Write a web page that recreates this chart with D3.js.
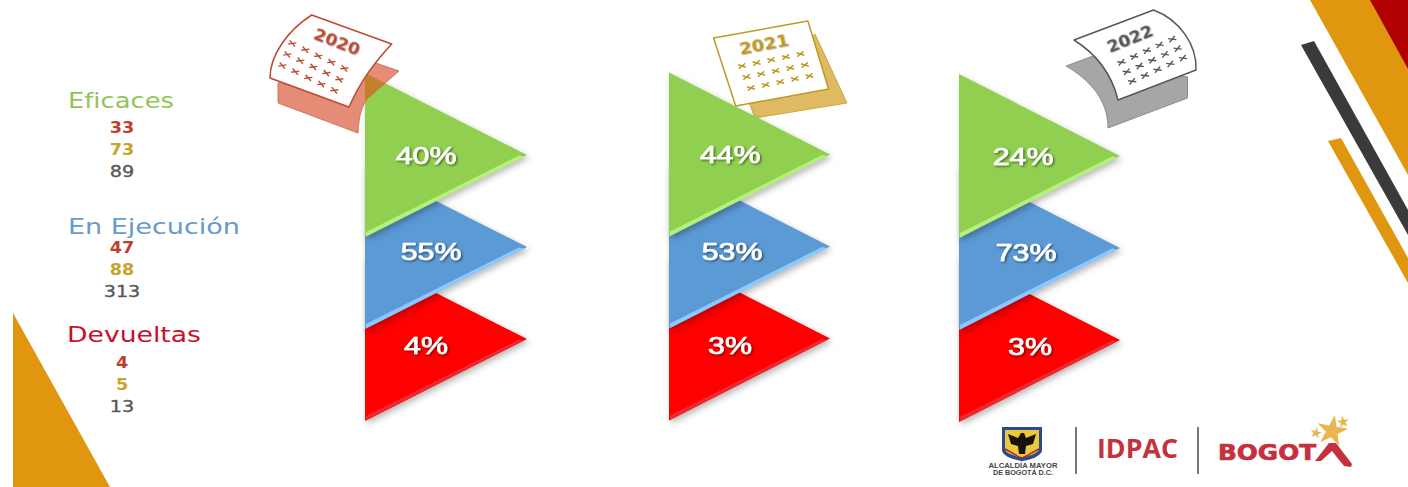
<!DOCTYPE html>
<html lang="es">
<head>
<meta charset="utf-8">
<title>Solicitudes por estado 2020-2022</title>
<script src="https://cdn.jsdelivr.net/npm/d3@7/dist/d3.min.js"></script>
<style>
  html, body { margin: 0; padding: 0; background: #fff; overflow: hidden; }
  svg { display: block; }
  text { font-family: "DejaVu Sans", sans-serif; }
</style>
</head>
<body>
<svg id="chart" width="1408" height="487" viewBox="0 0 1408 487"></svg>
<script>
// Values per year and per status
const years = ["2020", "2021", "2022"];
const statuses = ["Eficaces", "En Ejecución", "Devueltas"];
const eficacesCount = [33, 73, 89];
const ejecucionCount = [47, 88, 313];
const devueltasCount = [4, 5, 13];
const eficacesPct = [40, 44, 24];
const ejecucionPct = [55, 53, 73];
const devueltasPct = [4, 3, 3];

const counts = [eficacesCount, ejecucionCount, devueltasCount];
const pcts = [eficacesPct, ejecucionPct, devueltasPct];

// Scales for the three year columns and three status rows
const panelX = d3.scaleOrdinal().domain(years).range([365, 669, 959]);
const panelDy = d3.scaleOrdinal().domain(years).range([0, -0.5, 1]);
const tipY = d3.scaleOrdinal().domain(statuses).range([155, 247, 339]);
const triW = d3.scaleOrdinal().domain(years).range([162, 161, 161]);
const triH = 82;

const statusFill = d3.scaleOrdinal().domain(statuses).range(["#90cf50", "#5b9ad5", "#ff0000"]);
const statusEdge = d3.scaleOrdinal().domain(statuses).range(["#b4f07a", "#8cc8fb", "#ea2a30"]);
const statusTitle = d3.scaleOrdinal().domain(statuses).range(["#93c45a", "#669ccb", "#c8102a"]);
const yearInk = d3.scaleOrdinal().domain(years).range(["#bb4a32", "#bf9a22", "#555759"]);

const titleBase = d3.scaleOrdinal().domain(statuses).range([108, 234, 342]);
const titleWidth = d3.scaleOrdinal().domain(statuses).range([106, 172, 134]);
const firstCountBase = d3.scaleOrdinal().domain(statuses).range([133, 253, 368]);
const countStep = 22;

const svg = d3.select("#chart");
const defs = svg.append("defs");

const shadow = defs.append("filter").attr("id", "triShadow")
  .attr("x", "-15%").attr("y", "-15%").attr("width", "130%").attr("height", "130%");
shadow.append("feDropShadow").attr("dx", 2).attr("dy", 3).attr("stdDeviation", 3)
  .attr("flood-color", "#000").attr("flood-opacity", 0.28);

const textShadow = defs.append("filter").attr("id", "pctShadow")
  .attr("x", "-20%").attr("y", "-20%").attr("width", "140%").attr("height", "140%");
textShadow.append("feDropShadow").attr("dx", 1).attr("dy", 1.2).attr("stdDeviation", 0.8)
  .attr("flood-color", "#000").attr("flood-opacity", 0.55);

const yearShadow = defs.append("filter").attr("id", "yearShadow")
  .attr("x", "-20%").attr("y", "-20%").attr("width", "140%").attr("height", "140%");
yearShadow.append("feDropShadow").attr("dx", 0.8).attr("dy", 0.8).attr("stdDeviation", 0.6)
  .attr("flood-color", "#000").attr("flood-opacity", 0.35);

// Slide decoration in the corners
const corner = svg.append("g").attr("class", "corners");
const cornerShapes = [
  { fill: "#e0960f", pts: [[13, 313], [110, 487], [13, 487]] },
  { fill: "#e0960f", pts: [[1310, 0], [1371, 0], [1408, 68], [1408, 175]] },
  { fill: "#b00000", pts: [[1370, 0], [1408, 0], [1408, 69]] },
  { fill: "#3a3a3c", pts: [[1301, 45], [1314, 41], [1408, 210], [1408, 235]] },
  { fill: "#e0960f", pts: [[1328, 141], [1341, 138], [1408, 258], [1408, 283]] }
];
corner.selectAll("polygon").data(cornerShapes).join("polygon")
  .attr("points", d => d.pts.join(" "))
  .attr("fill", d => d.fill);

// Legend: status title followed by one count per year
const legend = svg.append("g").attr("class", "legend");
statuses.forEach((status, si) => {
  legend.append("text")
    .attr("x", status === "Devueltas" ? 67 : 68)
    .attr("y", titleBase(status))
    .attr("font-size", 20.5)
    .attr("fill", statusTitle(status))
    .attr("textLength", titleWidth(status))
    .attr("lengthAdjust", "spacingAndGlyphs")
    .text(status);
  legend.selectAll(null).data(counts[si]).join("text")
    .attr("transform", (d, i) => {
      const sx = i === 2 ? 1.2 : 1.1;
      return `translate(122,${firstCountBase(status) + i * countStep}) scale(${sx},1)`;
    })
    .attr("text-anchor", "middle")
    .attr("font-size", 16)
    .attr("font-weight", (d, i) => i === 2 ? 400 : 700)
    .attr("fill", (d, i) => i === 0 ? "#bf3f2c" : i === 1 ? "#c6a42c" : "#57585a")
    .attr("stroke", (d, i) => i === 2 ? "#57585a" : "none")
    .attr("stroke-width", 0.35)
    .text(d => d);
});

// Triangle outline for one year and status
function triangle(year, status) {
  const x0 = panelX(year), w = triW(year), y = tipY(status) + panelDy(year);
  return [[x0, y - triH], [x0 + w, y], [x0, y + triH]];
}

// Pages behind the triangles of the 2021 and 2022 columns
const calendars = [
  {
    year: "2020", back: "M278,83 L278,103 L358,133 C359,115 362,105 368,98 L399,71 L373,62 Z",
    backFill: "#e58c76", backStroke: "#c9654e",
    page: "M311.7,15 L391.7,44 C375,62 361,80 349,107 L270,78 C270,55 288,30 311.7,15 Z",
    cross: { x: 292.3, y: 43.5, ux: 13, uy: 6.2, vx: -5, vy: 11 },
    label: { x: 335, y: 47, angle: 21, width: 48 }
  },
  {
    year: "2021", back: "M815,34 L847,103 L755,118 L748,100 Z",
    backFill: "#deba62", backStroke: "#d2a63a",
    page: "M713.6,38 L807.9,21 L828.6,89 L735.7,106 Z",
    cross: { x: 742, y: 66, ux: 14.6, uy: -3, vx: 4.5, vy: 11 },
    label: { x: 765, y: 50, angle: -11, width: 50 }
  },
  {
    year: "2022", back: "M1066,66 L1093,56 L1187.5,77 L1187.5,98 L1108,128 C1108,100 1090,80 1066,66 Z",
    backFill: "#a6a6a6", backStroke: "#8d8d8d",
    page: "M1074,40 L1153.6,10 C1180,20 1197,45 1196,70 L1118,100 C1112,75 1098,55 1074,40 Z",
    cross: { x: 1121.4, y: 62.3, ux: 12.7, uy: -5.8, vx: 5.4, vy: 9.5 },
    label: { x: 1132, y: 44, angle: -22, width: 48 }
  }
];

const backs = svg.append("g").attr("class", "calendar-backs");
calendars.filter(c => c.year !== "2020").forEach(c => {
  backs.append("path").attr("d", c.back).attr("fill", c.backFill)
    .attr("stroke", c.backStroke).attr("stroke-width", 1);
});

// Triangles: lower rows first so each one tucks under the row above
const panels = svg.append("g").attr("class", "panels");
years.forEach(year => {
  const col = panels.append("g").attr("class", "col-" + year);
  [...statuses].reverse().forEach(status => {
    const [a, b, c] = triangle(year, status);
    const g = col.append("g").attr("filter", "url(#triShadow)");
    g.append("polygon").attr("points", [a, b, c].join(" ")).attr("fill", statusFill(status));
    // thin bevel along the lower slanted edge, tapering toward the tip
    g.append("polygon")
      .attr("points", [[b[0] - 3, b[1] + 1.5], [c[0] + 1, c[1] - 0.5], [c[0] + 1, c[1] - 5], [b[0] - 8, b[1] + 0.5]].join(" "))
      .attr("fill", statusEdge(status));
  });
});

// Front of the calendars, with the 2020 sheet tinting the triangle it overlaps
const fronts = svg.append("g").attr("class", "calendars");
const first = calendars[0];
fronts.append("path").attr("d", first.back).attr("fill", first.backFill);
defs.append("clipPath").attr("id", "sheet2020").append("path").attr("d", first.back);
fronts.append("polygon")
  .attr("points", triangle("2020", "Eficaces").join(" "))
  .attr("fill", "#c47f2a")
  .attr("clip-path", "url(#sheet2020)");
fronts.append("path").attr("d", first.back).attr("fill", "none")
  .attr("stroke", first.backStroke).attr("stroke-width", 0.8);

calendars.forEach(c => {
  const g = fronts.append("g").attr("class", "cal-" + c.year);
  g.append("path").attr("d", c.page).attr("fill", "#fff")
    .attr("stroke", yearInk(c.year)).attr("stroke-width", 1.5).attr("stroke-linejoin", "round");
  const marks = d3.cross(d3.range(5), d3.range(3));
  g.selectAll("path.x").data(marks).join("path")
    .attr("class", "x")
    .attr("transform", ([i, j]) =>
      `translate(${c.cross.x + i * c.cross.ux + j * c.cross.vx},${c.cross.y + i * c.cross.uy + j * c.cross.vy}) rotate(${c.label.angle})`)
    .attr("d", "M-3.6,-2 L3.6,2 M-3.6,2 L3.6,-2")
    .attr("stroke", yearInk(c.year))
    .attr("stroke-width", 1.4)
    .attr("fill", "none");
  g.append("text")
    .attr("transform", `translate(${c.label.x},${c.label.y}) rotate(${c.label.angle})`)
    .attr("text-anchor", "middle")
    .attr("font-size", 16.5)
    .attr("font-weight", 700)
    .attr("fill", yearInk(c.year))
    .attr("filter", "url(#yearShadow)")
    .attr("textLength", c.label.width)
    .attr("lengthAdjust", "spacingAndGlyphs")
    .text(c.year);
});

// Percentage labels inside the triangles
const pctOffset = [[61, 61, 64], [66, 63, 67], [61, 61, 71]];
const pctBaseline = [8.5, 13, 15];
const pctLabels = svg.append("g").attr("class", "pct-labels");
statuses.forEach((status, si) => {
  pctLabels.selectAll(null).data(pcts[si]).join("text")
    .attr("transform", (d, i) => {
      const px = panelX(years[i]) + pctOffset[si][i];
      const py = tipY(status) + pctBaseline[si] + panelDy(years[i]);
      return `translate(${px},${py}) scale(1.32,1)`;
    })
    .attr("text-anchor", "middle")
    .style("font-family", "'Liberation Sans', sans-serif")
    .attr("font-size", 23)
    .attr("font-weight", 400)
    .attr("fill", "#fff")
    .attr("stroke", "#fff")
    .attr("stroke-width", 0.7)
    .attr("filter", "url(#pctShadow)")
    .text(d => d + "%");
});

// Institutional logos, lower right
const logos = svg.append("g").attr("class", "logos");
logos.append("path")
  .attr("d", "M1002,427 L1042,427 L1042,450 C1042,456 1030,460 1022,461 C1014,460 1002,456 1002,450 Z")
  .attr("fill", "#2a4a90");
logos.append("path")
  .attr("d", "M1005,430 L1039,430 L1039,449 C1039,453 1029,456 1022,458 C1015,456 1005,453 1005,449 Z")
  .attr("fill", "#ecc93a");
logos.append("path")
  .attr("d", "M1008,434 L1018,438 L1021,433 L1024,433 L1026,438 L1036,434 L1033,444 L1026,446 L1025,454 L1019,454 L1018,446 L1011,444 Z")
  .attr("fill", "#16130c");
logos.append("path").attr("d", "M1005,449 C1012,452 1014,455 1022,458 C1030,455 1032,452 1039,449")
  .attr("fill", "none").attr("stroke", "#b0242a").attr("stroke-width", 1.4);
[["ALCALDÍA MAYOR", 468, 69], ["DE BOGOTÁ D.C.", 475, 60]].forEach(([line, y, w]) => {
  logos.append("text").attr("x", 1023).attr("y", y).attr("text-anchor", "middle")
    .style("font-family", "'Liberation Sans', sans-serif")
    .attr("font-size", 6.4).attr("font-weight", 700).attr("fill", "#444")
    .attr("textLength", w).attr("lengthAdjust", "spacingAndGlyphs").text(line);
});
logos.selectAll("line").data([1076, 1198]).join("line")
  .attr("x1", d => d).attr("x2", d => d).attr("y1", 427).attr("y2", 474)
  .attr("stroke", "#4d4d4d").attr("stroke-width", 1.5);
logos.append("text").attr("x", 1097).attr("y", 458)
  .style("font-family", "'Open Sans', sans-serif")
  .attr("font-size", 26.5).attr("font-weight", 700).attr("fill", "#c5303c")
  .attr("textLength", 81).attr("lengthAdjust", "spacingAndGlyphs").text("IDPAC");
logos.append("text").attr("x", 1218).attr("y", 460)
  .attr("font-size", 20.5).attr("font-weight", 700).attr("fill", "#c5303c")
  .attr("stroke", "#c5303c").attr("stroke-width", 0.7)
  .attr("textLength", 98).attr("lengthAdjust", "spacingAndGlyphs").text("BOGOT");
logos.append("path")
  .attr("d", "M1315,461 L1329,443 L1336,443 L1352,464 L1351,467 L1344,466 L1332,451 L1321,461 Z")
  .attr("fill", "#c5303c");
const star = d3.symbol().type(d3.symbolStar);
logos.selectAll("path.star")
  .data([{ x: 1332, y: 431, s: 300, r: 10 }, { x: 1343, y: 422, s: 45, r: -8 }, { x: 1316, y: 433, s: 40, r: 12 }])
  .join("path")
  .attr("class", "star")
  .attr("d", d => star.size(d.s)())
  .attr("transform", d => `translate(${d.x},${d.y}) rotate(${d.r})`)
  .attr("fill", "#eab44e");
</script>
</body>
</html>
